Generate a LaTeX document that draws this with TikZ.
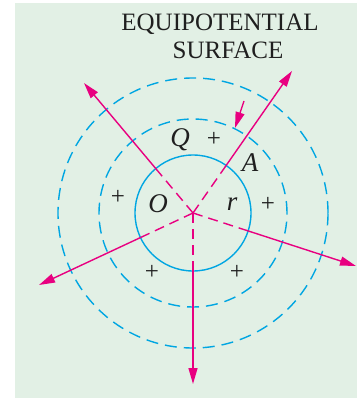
\documentclass[tikz,border=0pt]{standalone}
\usepackage{fontspec}
\setmainfont{Liberation Serif}
\usetikzlibrary{arrows.meta,calc}
\definecolor{bgreen}{RGB}{226,240,229}
\definecolor{eqblue}{RGB}{0,166,226}
\definecolor{fmag}{RGB}{232,0,128}
\begin{document}
\begin{tikzpicture}[
  x=1pt,y=-1pt,
  eqp/.style={draw=eqblue,line width=1.4pt},
  eqd/.style={eqp,dash pattern=on 12pt off 7pt},
  fld/.style={draw=fmag,line width=1.4pt},
  arr/.style={fld,-{Triangle[length=16pt,width=9pt]}},
  lbl/.style={text=black!88,font=\fontsize{25}{27}\selectfont},
  ital/.style={text=black!88,font=\fontsize{27}{29}\selectfont\itshape}
]
\useasboundingbox (0,0) rectangle (357,398);
\fill[bgreen] (15,3) rectangle (357,398);
\coordinate (O) at (193,213);
% equipotential surfaces
\draw[eqp] (O) circle[radius=58pt];
\draw[eqd] (O) circle[radius=94pt];
\draw[eqd] (O) circle[radius=135pt];
% field lines
\foreach \nm/\x/\y in {ul/84/83,ur/292/71,dr/356/266,dl/39/285,dn/193/384}{
  \coordinate (\nm) at (\x,\y);
  \draw[fld,dash pattern=on 10pt off 6pt] (O) -- ($(O)!58pt!(\nm)$);
  \draw[arr] ($(O)!58pt!(\nm)$) -- (\nm);
}
\coordinate (pa) at (244,101);
\coordinate (pb) at (235,128);
\draw[arr] (pa) -- (pb);
% labels
\node[lbl] (t1) at (220,24) {EQUIPOTENTIAL};
\node[lbl] (t2) at (228,50) {SURFACE};
\node[ital] (q) at (180,140) {Q};
\node[ital] (a) at (250,163) {A};
\node[ital] (o) at (158,204) {O};
\node[ital] (r) at (232,204) {r};
\node[lbl] (p1) at (214,139) {+};
\node[lbl] (p2) at (118,197) {+};
\node[lbl] (p3) at (268,204) {+};
\node[lbl] (p4) at (152,272) {+};
\node[lbl] (p5) at (237,272) {+};
\end{tikzpicture}
\end{document}
